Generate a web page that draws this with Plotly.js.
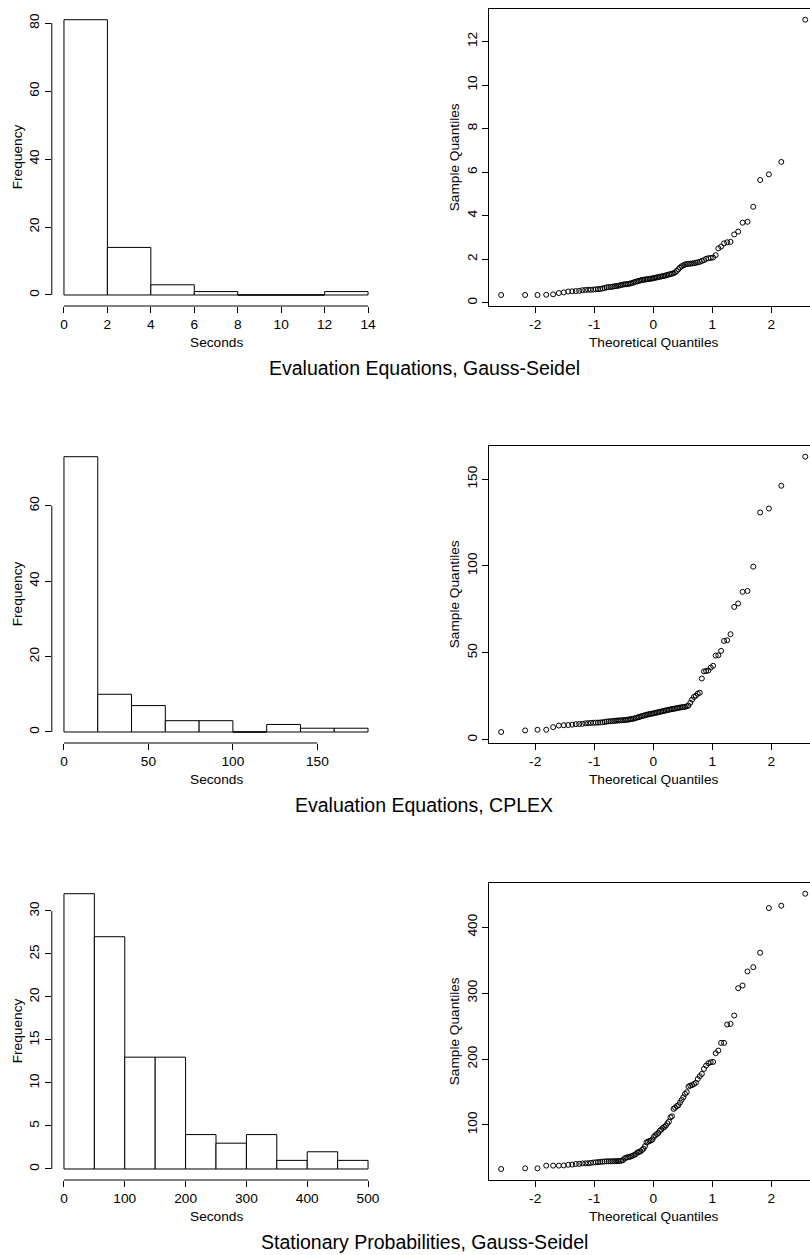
<!DOCTYPE html>
<html>
<head>
<meta charset="utf-8">
<script src="https://cdn.plot.ly/plotly-3.0.1.min.js"></script>
<style>
html,body{margin:0;padding:0;background:#fff;overflow:hidden}
#chart{width:810px;height:1255px}
</style>
</head>
<body>
<div id="chart"></div>
<script>
// ---------------- data ----------------
const panelTitles = [
  "Evaluation Equations, Gauss-Seidel",
  "Evaluation Equations, CPLEX",
  "Stationary Probabilities, Gauss-Seidel"
];

const histBreaks1 = [0, 2, 4, 6, 8, 10, 12, 14];
const histCounts1 = [81, 14, 3, 1, 0, 0, 1];
const histBreaks2 = [0, 20, 40, 60, 80, 100, 120, 140, 160, 180];
const histCounts2 = [73, 10, 7, 3, 3, 0, 2, 1, 1];
const histBreaks3 = [0, 50, 100, 150, 200, 250, 300, 350, 400, 450, 500];
const histCounts3 = [32, 27, 13, 13, 4, 3, 4, 1, 2, 1];

const histXTicks1 = [0, 2, 4, 6, 8, 10, 12, 14];
const histYTicks1 = [0, 20, 40, 60, 80];
const histXTicks2 = [0, 50, 100, 150];
const histYTicks2 = [0, 20, 40, 60];
const histXTicks3 = [0, 100, 200, 300, 400, 500];
const histYTicks3 = [0, 5, 10, 15, 20, 25, 30];

// sorted sample quantiles (seconds)
const qqSample1 = [
  0.36, 0.36, 0.36, 0.37, 0.39, 0.45, 0.48, 0.52, 0.53, 0.54,
  0.55, 0.58, 0.59, 0.60, 0.60, 0.61, 0.62, 0.63, 0.64, 0.66,
  0.68, 0.71, 0.72, 0.73, 0.74, 0.76, 0.77, 0.78, 0.80, 0.82,
  0.84, 0.85, 0.86, 0.87, 0.88, 0.90, 0.92, 0.95, 0.97, 0.99,
  1.01, 1.03, 1.05, 1.06, 1.07, 1.08, 1.09, 1.10, 1.11, 1.12,
  1.14, 1.15, 1.17, 1.18, 1.20, 1.21, 1.23, 1.24, 1.26, 1.28,
  1.30, 1.32, 1.34, 1.36, 1.40, 1.46, 1.54, 1.62, 1.68, 1.72,
  1.76, 1.78, 1.79, 1.80, 1.81, 1.82, 1.84, 1.86, 1.88, 1.92,
  1.96, 2.02, 2.05, 2.06, 2.08, 2.19, 2.50, 2.58, 2.73, 2.78,
  2.80, 3.14, 3.27, 3.68, 3.72, 4.41, 5.64, 5.90, 6.47, 13.0
];
const qqSample2 = [
  4.4, 5.3, 5.7, 5.7, 7.2, 8.1, 8.3, 8.4, 8.6, 8.9,
  9.0, 9.1, 9.4, 9.5, 9.6, 9.7, 9.8, 9.8, 9.9, 10.0,
  10.2, 10.4, 10.5, 10.6, 10.7, 10.8, 10.9, 11.0, 11.1, 11.1,
  11.2, 11.3, 11.4, 11.5, 11.7, 11.9, 12.0, 12.2, 12.5, 12.8,
  13.0, 13.3, 13.5, 13.8, 14.0, 14.3, 14.5, 14.7, 14.9, 15.0,
  15.2, 15.4, 15.6, 15.8, 16.0, 16.2, 16.4, 16.6, 16.8, 17.0,
  17.2, 17.4, 17.6, 17.7, 17.9, 18.1, 18.3, 18.5, 18.6, 18.8,
  18.9, 19.2, 19.6, 21.2, 23.0, 24.6, 25.3, 26.5, 27.0, 35.2,
  39.3, 39.5, 39.8, 41.5, 42.5, 48.4, 48.6, 51.1, 56.8, 57.2,
  60.7, 76.4, 78.4, 85.1, 85.6, 99.6, 130.8, 133.1, 146.2, 162.9
];
const qqSample3 = [
  33.2, 34.2, 34.2, 38.3, 38.3, 38.3, 38.6, 39.6, 39.9, 40.8,
  41.0, 41.6, 41.8, 42.0, 42.4, 43.0, 43.3, 43.6, 44.0, 44.3,
  44.6, 44.8, 44.8, 44.9, 45.0, 45.0, 45.1, 45.2, 45.4, 45.8,
  46.5, 49.5, 50.5, 51.0, 51.5, 52.5, 53.4, 54.5, 56.0, 58.4,
  59.0, 60.0, 62.0, 64.0, 68.0, 73.6, 74.5, 75.7, 76.5, 78.0,
  82.0, 84.5, 86.0, 88.0, 91.4, 93.0, 95.5, 97.0, 99.0, 102.5,
  105.0, 111.6, 113.0, 124.3, 126.0, 128.5, 130.0, 134.0, 138.0, 142.0,
  147.0, 149.6, 158.2, 159.6, 160.5, 162.1, 164.0, 169.7, 174.0, 177.4,
  185.0, 190.0, 193.6, 195.1, 195.6, 208.8, 212.8, 224.5, 224.5, 252.3,
  253.3, 266.0, 307.4, 311.5, 332.8, 339.3, 361.2, 428.9, 432.5, 450.7
];

const qqXTicks = [-2, -1, 0, 1, 2];
const qqYTicks1 = [0, 2, 4, 6, 8, 10, 12];
const qqYTicks2 = [0, 50, 100, 150];
const qqYTicks3 = [100, 200, 300, 400];

const histXLabel = "Seconds";
const histYLabel = "Frequency";
const qqXLabel = "Theoretical Quantiles";
const qqYLabel = "Sample Quantiles";

// ---------------- helpers ----------------
function qnorm(p) {
  const a = [-3.969683028665376e+01, 2.209460984245205e+02, -2.759285104469687e+02,
             1.383577518672690e+02, -3.066479806614716e+01, 2.506628277459239e+00];
  const b = [-5.447609879822406e+01, 1.615858368580409e+02, -1.556989798598866e+02,
             6.680131188771972e+01, -1.328068155288572e+01];
  const c = [-7.784894002430293e-03, -3.223964580411365e-01, -2.400758276611733e+00,
             -2.549671010229276e+00, 4.374664141464968e+00, 2.938163982698783e+00];
  const d = [7.784695709041462e-03, 3.224671290700398e-01, 2.445134137142996e+00,
             3.754408661907416e+00];
  const pl = 0.02425, ph = 1 - pl;
  let q, r;
  if (p < pl) {
    q = Math.sqrt(-2 * Math.log(p));
    return (((((c[0]*q+c[1])*q+c[2])*q+c[3])*q+c[4])*q+c[5]) / ((((d[0]*q+d[1])*q+d[2])*q+d[3])*q+1);
  }
  if (p > ph) {
    q = Math.sqrt(-2 * Math.log(1 - p));
    return -(((((c[0]*q+c[1])*q+c[2])*q+c[3])*q+c[4])*q+c[5]) / ((((d[0]*q+d[1])*q+d[2])*q+d[3])*q+1);
  }
  q = p - 0.5; r = q * q;
  return (((((a[0]*r+a[1])*r+a[2])*r+a[3])*r+a[4])*r+a[5])*q / (((((b[0]*r+b[1])*r+b[2])*r+b[3])*r+b[4])*r+1);
}
// theoretical normal quantiles, R's ppoints(n)
function theoQuantiles(n) {
  const a = n <= 10 ? 3 / 8 : 0.5;
  const out = [];
  for (let i = 1; i <= n; i++) out.push(qnorm((i - a) / (n + 1 - 2 * a)));
  return out;
}
function expand(lo, hi) { const s = (hi - lo) * 0.04; return [lo - s, hi + s]; }

// ---------------- layout geometry (px) ----------------
const W = 810, H = 1255;
const HIST_X0 = 51.8, PLOT_W = 328.4, QQ_X0 = 489;
const ROW_TOP = 8.7, ROW_BOT = 306, PITCH = 437;
const TICK_FONT = 13.7, TITLE_FONT = 19.5;
const FONT = "Liberation Sans, Arial, Helvetica, sans-serif";

const rows = [
  {breaks: histBreaks1, counts: histCounts1, hx: histXTicks1, hy: histYTicks1, qq: qqSample1, qy: qqYTicks1},
  {breaks: histBreaks2, counts: histCounts2, hx: histXTicks2, hy: histYTicks2, qq: qqSample2, qy: qqYTicks2},
  {breaks: histBreaks3, counts: histCounts3, hx: histXTicks3, hy: histYTicks3, qq: qqSample3, qy: qqYTicks3}
];

const data = [];
const layout = {
  width: W, height: H,
  margin: {l: 0, r: 0, t: 0, b: 0, pad: 0},
  paper_bgcolor: "#fff", plot_bgcolor: "#fff",
  showlegend: false,
  font: {family: FONT, size: TICK_FONT, color: "#000"},
  shapes: [], annotations: []
};

function axisBase(extra) {
  return Object.assign({
    showgrid: false, zeroline: false,
    ticks: "outside", ticklen: 6, tickwidth: 1, tickcolor: "#000",
    tickfont: {family: FONT, size: TICK_FONT, color: "#000"},
    tickmode: "array", fixedrange: true
  }, extra);
}

rows.forEach((row, r) => {
  const top = ROW_TOP + r * PITCH, bot = ROW_BOT + r * PITCH;
  const yDom = [1 - bot / H, 1 - top / H];
  const hn = 2 * r + 1, qn = 2 * r + 2;
  const hs = hn === 1 ? "" : String(hn), qs = String(qn);

  // ---- histogram ----
  const centers = [], widths = [];
  for (let i = 0; i < row.counts.length; i++) {
    centers.push((row.breaks[i] + row.breaks[i + 1]) / 2);
    widths.push(row.breaks[i + 1] - row.breaks[i]);
  }
  data.push({
    type: "bar", x: centers, y: row.counts, width: widths,
    xaxis: "x" + hs, yaxis: "y" + hs,
    marker: {color: "#fff", line: {color: "#000", width: 1}},
    hoverinfo: "skip"
  });
  // zero-count bins drawn as flat outlines at y = 0
  row.counts.forEach((c, i) => {
    if (c === 0) layout.shapes.push({
      type: "line", xref: "x" + hs, yref: "y" + hs,
      x0: row.breaks[i], x1: row.breaks[i + 1], y0: 0, y1: 0,
      line: {color: "#000", width: 1}
    });
  });
  const bMin = row.breaks[0], bMax = row.breaks[row.breaks.length - 1];
  const cMax = Math.max.apply(null, row.counts);
  layout["xaxis" + hs] = axisBase({
    domain: [HIST_X0 / W, (HIST_X0 + PLOT_W) / W], anchor: "y" + hs,
    range: expand(bMin, bMax), tickvals: row.hx, showline: false
  });
  layout["yaxis" + hs] = axisBase({
    domain: yDom, anchor: "x" + hs,
    range: expand(0, cMax), tickvals: row.hy, tickangle: -90, showline: false
  });
  // R-style axis lines spanning first..last tick
  layout.shapes.push({
    type: "line", xref: "x" + hs, yref: "y" + hs + " domain",
    x0: row.hx[0], x1: row.hx[row.hx.length - 1], y0: 0, y1: 0,
    line: {color: "#000", width: 1}
  });
  layout.shapes.push({
    type: "line", xref: "x" + hs + " domain", yref: "y" + hs,
    x0: 0, x1: 0, y0: row.hy[0], y1: row.hy[row.hy.length - 1],
    line: {color: "#000", width: 1}
  });

  // ---- Q-Q plot ----
  const tq = theoQuantiles(row.qq.length);
  data.push({
    type: "scatter", mode: "markers", x: tq, y: row.qq,
    xaxis: "x" + qs, yaxis: "y" + qs,
    marker: {symbol: "circle-open", size: 5, color: "#000", line: {color: "#000", width: 1}},
    cliponaxis: false, hoverinfo: "skip"
  });
  const xr = expand(tq[0], tq[tq.length - 1]);
  const visFrac = (W - QQ_X0) / PLOT_W;   // plot box runs past the right edge of the page
  const yMin = Math.min.apply(null, row.qq), yMax = Math.max.apply(null, row.qq);
  layout["xaxis" + qs] = axisBase({
    domain: [QQ_X0 / W, 1], anchor: "y" + qs,
    range: [xr[0], xr[0] + (xr[1] - xr[0]) * visFrac],
    tickvals: qqXTicks, ticktext: qqXTicks.map(String),
    showline: true, mirror: true, linecolor: "#000", linewidth: 1
  });
  layout["yaxis" + qs] = axisBase({
    domain: yDom, anchor: "x" + qs,
    range: expand(yMin, yMax), tickvals: row.qy, tickangle: -90,
    showline: true, mirror: false, linecolor: "#000", linewidth: 1
  });

  // ---- axis titles & panel title ----
  const midY = 1 - ((top + bot) / 2) / H;
  const labY = 1 - (bot + 36) / H;
  const ann = (text, xpx, y, size, angle) => layout.annotations.push({
    text: text, xref: "paper", yref: "paper", x: xpx / W, y: y,
    xanchor: "center", yanchor: "middle", showarrow: false, textangle: angle || 0,
    font: {family: FONT, size: size, color: "#000"}
  });
  ann(histYLabel, 17, midY, TICK_FONT, -90);
  ann(qqYLabel, 454, midY, TICK_FONT, -90);
  ann(histXLabel, HIST_X0 + PLOT_W / 2, labY, TICK_FONT);
  ann(qqXLabel, QQ_X0 + PLOT_W / 2, labY, TICK_FONT);
  ann(panelTitles[r], 424, 1 - (bot + 62) / H, TITLE_FONT);
});

Plotly.newPlot("chart", data, layout, {displayModeBar: false, staticPlot: true});
</script>
</body>
</html>
